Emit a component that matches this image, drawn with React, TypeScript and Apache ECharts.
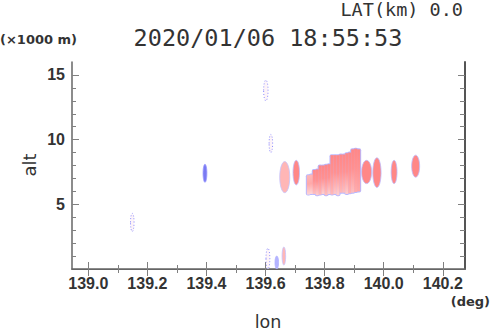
import React, { useEffect, useRef } from 'react';
import * as echarts from 'echarts';

// axis ranges and ticks
const lonRange = [138.945, 140.275];
const altRange = [0, 16];
const xMajorTicks = [139.0, 139.2, 139.4, 139.6, 139.8, 140.0, 140.2];
const xMinorTicks = [139.1, 139.3, 139.5, 139.7, 139.9, 140.1];
const yMajorTicks = [5, 10, 15];
const yMinorTicks = [1, 2, 3, 4, 6, 7, 8, 9, 11, 12, 13, 14];

// isolated echo cells: centre lon, bottom alt, top alt, lon width, echo level
const cellLon = [139.149, 139.395, 139.601, 139.618, 139.608, 139.638, 139.662, 139.665, 139.704, 139.942, 139.977, 140.035, 140.108];
const cellLo = [2.9, 6.7, 13.0, 9.0, 0.0, 0.0, 0.3, 5.9, 6.5, 6.6, 6.3, 6.6, 7.1];
const cellHi = [4.3, 8.1, 14.6, 10.4, 1.6, 1.0, 1.7, 8.3, 8.4, 8.4, 8.6, 8.4, 8.8];
const cellWidth = [0.012, 0.013, 0.015, 0.012, 0.013, 0.012, 0.012, 0.034, 0.022, 0.034, 0.028, 0.02, 0.027];
const cellLevel = [0, 1, 0, 0, 0, 2, 3, 3, 4, 4, 4, 4, 4];

// main echo cluster as columns: lon, bottom alt, top alt, top level, lower fading (0..1)
const colLon = [139.745, 139.755, 139.765, 139.775, 139.785, 139.795, 139.805, 139.815, 139.825, 139.835, 139.845, 139.855, 139.865, 139.875, 139.885, 139.895, 139.905, 139.915];
const colLo = [5.75, 5.8, 5.8, 5.7, 5.75, 5.8, 5.7, 5.8, 5.75, 5.8, 5.7, 5.9, 5.9, 5.8, 5.85, 5.9, 5.95, 6.0];
const colHi = [7.25, 7.3, 7.65, 7.7, 8.0, 8.0, 8.05, 8.1, 8.8, 8.8, 8.8, 8.85, 8.85, 8.95, 9.0, 9.25, 9.3, 9.25];
const colLevel = [3, 3, 4, 4, 4, 4, 4, 4, 4, 4, 4, 4, 4, 4, 4, 4, 4, 4];
const colFade = [1, 1, 0.6, 0.85, 0.5, 0.9, 0.6, 0.85, 0.5, 0.75, 0.9, 0.5, 0.6, 0.85, 0.4, 0.6, 0.3, 0.2];

const levelFill = ['#fdf4f8', '#7a7af2', '#b4b4ff', '#ffb6b6', '#ff8787'];
const levelStroke = ['#8c8cff', '#9a9aff', '#b0b0ff', '#c4c4ff', '#bcbcff'];

function mix(a: string, b: string, t: number) {
  const pa = [1, 3, 5].map((i) => parseInt(a.slice(i, i + 2), 16));
  const pb = [1, 3, 5].map((i) => parseInt(b.slice(i, i + 2), 16));
  const c = pa.map((v, i) => Math.round(v + (pb[i] - v) * t));
  return `rgb(${c[0]},${c[1]},${c[2]})`;
}

export default function App() {
  const ref = useRef<HTMLDivElement>(null);
  useEffect(() => {
    if (!ref.current) return;
    const chart = echarts.init(ref.current, undefined, { renderer: 'svg' });

    const cellData = cellLon.map((v, i) => [v, cellLo[i], cellHi[i], cellWidth[i], cellLevel[i]]);
    const colData = colLon.map((v, i) => [v, colLo[i], colHi[i], colLevel[i], colFade[i]]);
    const colWidth = 0.0105;

    const tickLine = { color: '#808080', width: 1 };
    const frame = { color: '#666', width: 1.5 };
    const baseX = { type: 'value', min: lonRange[0], max: lonRange[1], splitLine: { show: false } };
    const baseY = { type: 'value', min: altRange[0], max: altRange[1], splitLine: { show: false } };
    const labelStyle = { fontFamily: 'Liberation Sans', fontWeight: 'bold', fontSize: 16, color: '#333' };

    const option: any = {
      animation: false,
      grid: { left: 72, right: 25, top: 62, bottom: 62 },
      xAxis: [
        {
          ...baseX, position: 'bottom',
          axisLine: { show: true, lineStyle: frame },
          axisTick: { show: true, inside: true, length: 7, customValues: xMajorTicks, lineStyle: tickLine },
          axisLabel: { show: true, customValues: xMajorTicks, margin: 6, formatter: (v: number) => v.toFixed(1), ...labelStyle },
        },
        {
          ...baseX, position: 'bottom',
          axisLine: { show: false },
          axisTick: { show: true, inside: true, length: 4, customValues: xMinorTicks, lineStyle: tickLine },
          axisLabel: { show: false },
        },
        {
          ...baseX, position: 'top',
          axisLine: { show: true, lineStyle: { color: '#666', width: 1.2 } },
          axisTick: { show: true, inside: true, length: 7, customValues: xMajorTicks, lineStyle: tickLine },
          axisLabel: { show: false },
        },
        {
          ...baseX, position: 'top',
          axisLine: { show: false },
          axisTick: { show: true, inside: true, length: 4, customValues: xMinorTicks, lineStyle: tickLine },
          axisLabel: { show: false },
        },
      ],
      yAxis: [
        {
          ...baseY, position: 'left',
          axisLine: { show: true, lineStyle: frame },
          axisTick: { show: true, inside: true, length: 7, customValues: yMajorTicks, lineStyle: tickLine },
          axisLabel: { show: true, customValues: yMajorTicks, margin: 7, formatter: (v: number) => String(Math.round(v)), ...labelStyle },
        },
        {
          ...baseY, position: 'left',
          axisLine: { show: false },
          axisTick: { show: true, inside: true, length: 4, customValues: yMinorTicks, lineStyle: tickLine },
          axisLabel: { show: false },
        },
        {
          ...baseY, position: 'right',
          axisLine: { show: true, lineStyle: { color: '#555', width: 2 } },
          axisTick: { show: true, inside: true, length: 7, customValues: yMajorTicks, lineStyle: tickLine },
          axisLabel: { show: false },
        },
        {
          ...baseY, position: 'right',
          axisLine: { show: false },
          axisTick: { show: true, inside: true, length: 5, customValues: yMinorTicks, lineStyle: tickLine },
          axisLabel: { show: false },
        },
      ],
      series: [
        {
          type: 'custom',
          name: 'cluster-outline',
          xAxisIndex: 0,
          yAxisIndex: 0,
          clip: true,
          data: colData,
          renderItem: (params: any, api: any) => {
            const lon = api.value(0);
            const top = api.coord([lon, api.value(2)]);
            const bot = api.coord([lon, api.value(1)]);
            const w = api.size([colWidth, 0])[0];
            return {
              type: 'rect',
              shape: { x: top[0] - w / 2 - 1, y: top[1] - 1, width: w + 2, height: bot[1] - top[1] + 2, r: 2 },
              style: { fill: '#b8b8ff' },
            };
          },
        },
        {
          type: 'custom',
          name: 'cells',
          xAxisIndex: 0,
          yAxisIndex: 0,
          clip: true,
          data: cellData,
          renderItem: (params: any, api: any) => {
            const lon = api.value(0);
            const top = api.coord([lon, api.value(2)]);
            const bot = api.coord([lon, api.value(1)]);
            const w = api.size([api.value(3), 0])[0];
            const lvl = api.value(4);
            return {
              type: 'ellipse',
              shape: { cx: top[0], cy: (top[1] + bot[1]) / 2, rx: w / 2, ry: (bot[1] - top[1]) / 2 },
              style: {
                fill: levelFill[lvl],
                stroke: levelStroke[lvl],
                lineWidth: lvl === 0 ? 1 : 0.8,
                lineDash: lvl === 0 ? [1, 2] : null,
              },
            };
          },
        },
        {
          type: 'custom',
          name: 'cluster',
          xAxisIndex: 0,
          yAxisIndex: 0,
          clip: true,
          data: colData,
          renderItem: (params: any, api: any) => {
            const lon = api.value(0);
            const top = api.coord([lon, api.value(2)]);
            const bot = api.coord([lon, api.value(1)]);
            const w = api.size([colWidth, 0])[0];
            const lvl = api.value(3);
            const fade = api.value(4);
            const topC = levelFill[lvl];
            return {
              type: 'rect',
              shape: { x: top[0] - w / 2, y: top[1], width: w, height: bot[1] - top[1] },
              style: {
                fill: new echarts.graphic.LinearGradient(0, 0, 0, 1, [
                  { offset: 0, color: topC },
                  { offset: 0.45, color: mix(topC, '#ff9a9a', 0.5) },
                  { offset: 1, color: mix('#ff9c9c', '#ffd6d6', fade) },
                ]),
              },
            };
          },
        },
      ],
      graphic: [
        {
          type: 'text', x: 463, y: 9,
          style: { text: 'LAT(km) 0.0', font: '18.5px "DejaVu Sans Mono"', fill: '#333', align: 'right', verticalAlign: 'middle' },
        },
        {
          type: 'text', x: 268, y: 38,
          style: { text: '2020/01/06 18:55:53', font: '23.5px "DejaVu Sans Mono"', fill: '#333', align: 'center', verticalAlign: 'middle' },
        },
        {
          type: 'text', x: 0, y: 39,
          style: { text: '(×1000 m)', font: 'bold 13px "DejaVu Sans"', fill: '#333', align: 'left', verticalAlign: 'middle' },
        },
        {
          type: 'text', x: 29, y: 165, rotation: Math.PI / 2,
          style: { text: 'alt', font: '18px "DejaVu Sans"', fill: '#333', align: 'center', verticalAlign: 'middle' },
        },
        {
          type: 'text', x: 268, y: 322,
          style: { text: 'lon', font: '17.5px "DejaVu Sans"', fill: '#333', align: 'center', verticalAlign: 'middle' },
        },
        {
          type: 'text', x: 490, y: 301,
          style: { text: '(deg)', font: 'bold 13px "DejaVu Sans"', fill: '#333', align: 'right', verticalAlign: 'middle' },
        },
      ],
    };

    chart.setOption(option);
    return () => chart.dispose();
  }, []);

  return (
    <div
      ref={ref}
      style={{ position: 'absolute', left: 0, top: 0, width: 490, height: 331, background: '#fff' }}
    />
  );
}
